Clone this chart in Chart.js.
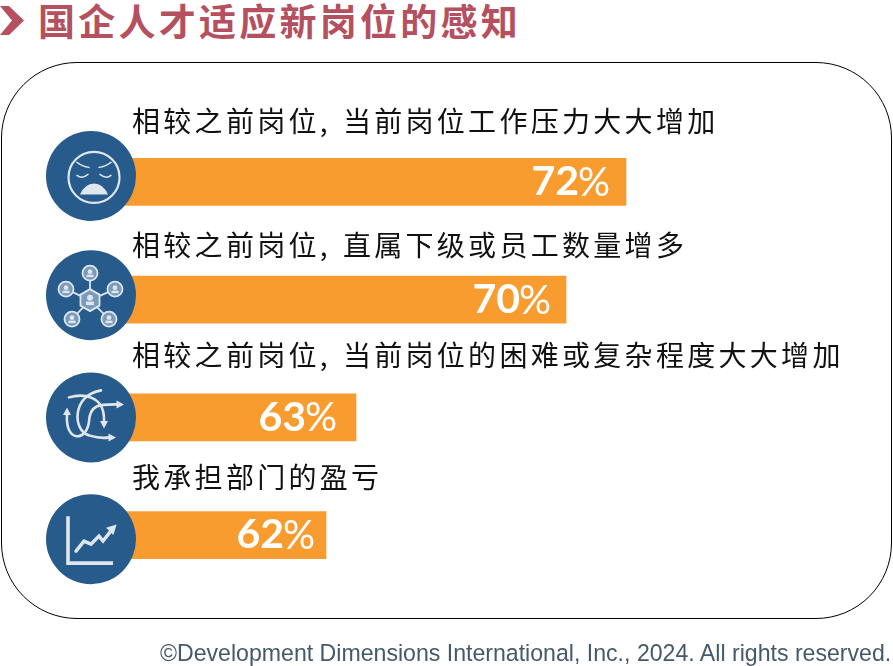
<!DOCTYPE html>
<html lang="zh">
<head>
<meta charset="utf-8">
<title>国企人才适应新岗位的感知</title>
<script src="https://cdn.jsdelivr.net/npm/chart.js@4"></script>
<style>
  html, body { margin: 0; padding: 0; background: #fff; }
  #page { position: relative; width: 893px; height: 666px; overflow: hidden; }
  #panel { position: absolute; left: 1px; top: 62px; width: 889px; height: 555px; border: 1.5px solid #000; border-radius: 76px; }
  #chevron { position: absolute; left: 0; top: 5px; }
  #title { position: absolute; left: 38px; top: -7px; font: bold 37px "Noto Sans CJK SC"; letter-spacing: 3.25px; color: #b5505f; white-space: nowrap; }
  #credit { position: absolute; left: 160px; top: 640px; font: 23.12px "Liberation Sans"; color: #44596b; white-space: nowrap; }
  #chartBox { position: absolute; left: 0; top: 0; width: 893px; height: 666px; }
</style>
</head>
<body>
<div id="page">
  <svg id="chevron" width="26" height="32"><path d="M0 1H9L24 15.500 9 30H0L12 15.500Z" fill="#b5505f"/></svg>
  <div id="title">国企人才适应新岗位的感知</div>
  <div id="panel"></div>
  <div id="chartBox"><canvas id="chart"></canvas></div>
  <div id="credit">©Development Dimensions International, Inc., 2024. All rights reserved.</div>
</div>
<script>
// Chart data
const categories = [
  '相较之前岗位,当前岗位工作压力大大增加',
  '相较之前岗位,直属下级或员工数量增多',
  '相较之前岗位,当前岗位的困难或复杂程度大大增加',
  '我承担部门的盈亏'
];
const values = [72, 70, 63, 62];

// Hand placement of things around the bars, relative to each bar's centre
const captionOffsets = [-61, -54.5, -62.5, -57.5];
const badgeOffsets = [-6, -4.5, 0, 4];
const valueInsets = [17, 16, 20, 12];
const COMMA_GAP = 12;

const ICON_COLOR = '#dfe6ee';
const NODE_COLOR = '#7b9bbb';

function line(ctx, pts) {
  ctx.beginPath();
  pts.forEach((p, i) => (i ? ctx.lineTo(p[0], p[1]) : ctx.moveTo(p[0], p[1])));
  ctx.stroke();
}

function arrowHead(ctx, x, y, angle, size) {
  ctx.save();
  ctx.translate(x, y);
  ctx.rotate(angle);
  ctx.beginPath();
  ctx.moveTo(size, 0);
  ctx.lineTo(-size * 0.5, -size * 0.8);
  ctx.lineTo(-size * 0.5, size * 0.8);
  ctx.closePath();
  ctx.fill();
  ctx.restore();
}

function drawFace(ctx) {
  ctx.translate(3, 1.5);
  ctx.lineWidth = 2.2;
  ctx.beginPath();
  ctx.arc(0, 0, 25.5, 0, Math.PI * 2);
  ctx.stroke();
  ctx.lineWidth = 1.5;
  [-1, 1].forEach(s => {
    ctx.beginPath();
    ctx.moveTo(s * 5, -10);
    ctx.quadraticCurveTo(s * 12, -11, s * 17, -15);
    ctx.stroke();
    ctx.beginPath();
    ctx.moveTo(s * 6, -3);
    ctx.quadraticCurveTo(s * 12, 2, s * 17, -2);
    ctx.stroke();
  });
  ctx.beginPath();
  ctx.moveTo(-14, 17);
  ctx.quadraticCurveTo(-9, 6, 0, 6);
  ctx.quadraticCurveTo(9, 6, 14, 17);
  ctx.closePath();
  ctx.fill();
}

function drawNetwork(ctx) {
  const nodes = [[-1, -22], [-25, -6], [24, -6], [-19, 24], [18, 24]];
  ctx.lineWidth = 1.8;
  nodes.forEach(n => {
    line(ctx, [[-1, 5], n]);
  });
  nodes.forEach(n => {
    ctx.fillStyle = NODE_COLOR;
    ctx.beginPath();
    ctx.arc(n[0], n[1], 7.5, 0, Math.PI * 2);
    ctx.fill();
    ctx.stroke();
    ctx.fillStyle = ICON_COLOR;
    ctx.beginPath();
    ctx.arc(n[0], n[1] - 1.5, 2.4, 0, Math.PI * 2);
    ctx.fill();
    ctx.fillRect(n[0] - 3.5, n[1] + 1.5, 7, 2.5);
  });
  ctx.fillStyle = NODE_COLOR;
  ctx.beginPath();
  for (let i = 0; i < 6; i++) {
    const a = Math.PI / 6 + i * Math.PI / 3;
    ctx.lineTo(-1 + 11 * Math.cos(a), 5 + 11 * Math.sin(a));
  }
  ctx.closePath();
  ctx.fill();
  ctx.stroke();
  ctx.fillStyle = ICON_COLOR;
  ctx.beginPath();
  ctx.arc(-1, 2.5, 3, 0, Math.PI * 2);
  ctx.fill();
  ctx.fillRect(-5, 6.5, 8, 3.5);
}

function drawPaths(ctx) {
  ctx.lineWidth = 2.6;
  ctx.beginPath();
  ctx.moveTo(-22, -20);
  ctx.bezierCurveTo(-8, -24, 13, -22, 13, 2);
  ctx.lineTo(13, 3);
  ctx.stroke();
  arrowHead(ctx, 13, 6, Math.PI / 2, 5);
  ctx.beginPath();
  ctx.moveTo(10, -27);
  ctx.bezierCurveTo(-20, -22, -18, 14, -2, 18);
  ctx.bezierCurveTo(8, 21, 13, 21, 18, 20);
  ctx.stroke();
  arrowHead(ctx, 20, 20, 0, 5);
  ctx.beginPath();
  ctx.moveTo(-24, -3);
  ctx.bezierCurveTo(-26, 26, -4, 24, -2, 4);
  ctx.bezierCurveTo(-1, -14, 10, -13, 27, -13);
  ctx.stroke();
  arrowHead(ctx, 28, -13, 0, 5);
  arrowHead(ctx, -24, -5, -Math.PI / 2, 5);
}

function drawTrend(ctx) {
  ctx.lineCap = 'butt';
  ctx.lineJoin = 'miter';
  ctx.lineWidth = 3.6;
  line(ctx, [[-23, -23], [-23, 24], [22, 24]]);
  ctx.lineCap = 'round';
  ctx.lineWidth = 3.4;
  line(ctx, [[-15, 12], [-7, 2], [0, 5], [8, -3], [12, 2], [19, -7]]);
  arrowHead(ctx, 21, -10, -Math.PI / 4, 6.5);
}

const badgeIcons = [drawFace, drawNetwork, drawPaths, drawTrend];

// The source sets a wider gap after the comma, so the text goes down in two pieces
function drawCaption(ctx, text, x, y) {
  const cut = text.indexOf(',') + 1;
  if (!cut) {
    ctx.fillText(text, x, y);
    return;
  }
  const head = text.slice(0, cut);
  ctx.fillText(head, x, y);
  ctx.fillText(text.slice(cut), x + ctx.measureText(head).width + COMMA_GAP, y);
}

// Captions above the bars, value labels inside them, round badges over their left ends
const barDecorations = {
  id: 'barDecorations',
  afterDatasetsDraw(chart) {
    const ctx = chart.ctx;
    const bars = chart.getDatasetMeta(0).data;
    bars.forEach((bar, i) => {
      ctx.save();
      ctx.textBaseline = 'middle';
      ctx.textAlign = 'left';
      ctx.fillStyle = '#111';
      ctx.font = '28px "Noto Sans CJK SC"';
      ctx.letterSpacing = '3.3px';
      drawCaption(ctx, categories[i], 132, bar.y + captionOffsets[i]);
      ctx.letterSpacing = '0px';

      // big digits, thin percent sign, right aligned to the inset
      const right = bar.x - valueInsets[i];
      ctx.fillStyle = '#fff';
      ctx.textAlign = 'right';
      ctx.font = '40px Lato';
      ctx.fillText('%', right + 1, bar.y + 1);
      const pctWidth = ctx.measureText('%').width;
      ctx.font = 'bold 41px Lato';
      ctx.fillText(String(values[i]), right - pctWidth + 2, bar.y);

      const cx = 91;
      const cy = bar.y + badgeOffsets[i];
      ctx.fillStyle = '#265b8c';
      ctx.beginPath();
      ctx.arc(cx, cy, 45, 0, Math.PI * 2);
      ctx.fill();
      ctx.translate(cx, cy);
      ctx.strokeStyle = ICON_COLOR;
      ctx.fillStyle = ICON_COLOR;
      ctx.lineCap = 'round';
      ctx.lineJoin = 'round';
      badgeIcons[i](ctx);
      ctx.restore();
    });
  }
};

new Chart(document.getElementById('chart'), {
  type: 'bar',
  data: {
    labels: categories,
    datasets: [{
      data: values,
      backgroundColor: '#f99c30',
      barThickness: 47
    }]
  },
  options: {
    indexAxis: 'y',
    responsive: true,
    maintainAspectRatio: false,
    animation: false,
    layout: { padding: { left: 101, right: 177, top: 123, bottom: 72 } },
    plugins: {
      legend: { display: false },
      tooltip: { enabled: false }
    },
    scales: {
      x: { display: false, min: 54.5, max: 75 },
      y: { display: false }
    }
  },
  plugins: [barDecorations]
});
</script>
</body>
</html>
